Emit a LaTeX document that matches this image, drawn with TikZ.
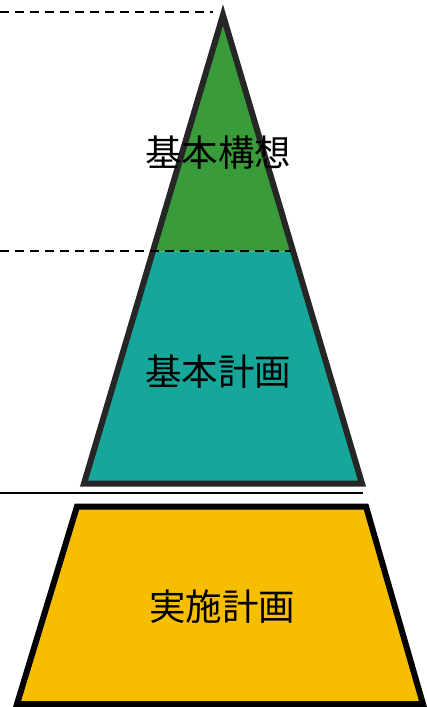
\documentclass[tikz,border=0pt]{standalone}
\usepackage{fontspec}
\newfontfamily\jpfont{Noto Sans CJK JP}
\usetikzlibrary{calc}
\definecolor{kousougreen}{HTML}{3A9B3A}
\definecolor{keikakuteal}{HTML}{17A69A}
\definecolor{jisshiyellow}{HTML}{F7BE00}
\definecolor{edgegray}{HTML}{262626}

\begin{document}
\begin{tikzpicture}[x=1pt, y=-1pt,
        stage/.style={font=\jpfont\fontsize{36.5}{36.5}\selectfont, inner sep=0pt},
        guide/.style={line width=2.5pt, dash pattern=on 9pt off 6pt}]
        \useasboundingbox (0,0) rectangle (427,707);
        % pyramid
        \coordinate (apex) at (223,15);
        \coordinate (bl) at (84,483.5);
        \coordinate (br) at (362,483.5);
        \coordinate (ml) at ($(apex)!0.5048!(bl)$);
        \coordinate (mr) at ($(apex)!0.5048!(br)$);
        \fill[kousougreen] (apex) -- (ml) -- (mr) -- cycle;
        \fill[keikakuteal] (ml) -- (bl) -- (br) -- (mr) -- cycle;
        \draw[line width=6pt, draw=edgegray] (apex) -- (bl) -- (br) -- cycle;

        % guide lines
        \coordinate (g1s) at (0,12);
        \coordinate (g1e) at (213,12);
        \coordinate (g2s) at (0,251);
        \coordinate (g2e) at (291,251);
        \draw[guide] (g1s) -- (g1e);
        \draw[guide] (g2s) -- (g2e);
        \coordinate (sepl) at (0,493);
        \coordinate (sepr) at (363,493);
        \draw[line width=2pt] (sepl) -- (sepr);

        % lower stage
        \coordinate (tl) at (77,506.5);
        \coordinate (tr) at (366,506.5);
        \coordinate (ur) at (423,704);
        \coordinate (ul) at (17,704);
        \draw[line width=6pt, fill=jisshiyellow] (tl) -- (tr) -- (ur) -- (ul) -- cycle;

        \node[stage] (kousou) at (218,153) {基本構想};
        \node[stage] (keikaku) at (218,372) {基本計画};
        \node[stage] (jisshi) at (222,607) {実施計画};
\end{tikzpicture}
\end{document}
